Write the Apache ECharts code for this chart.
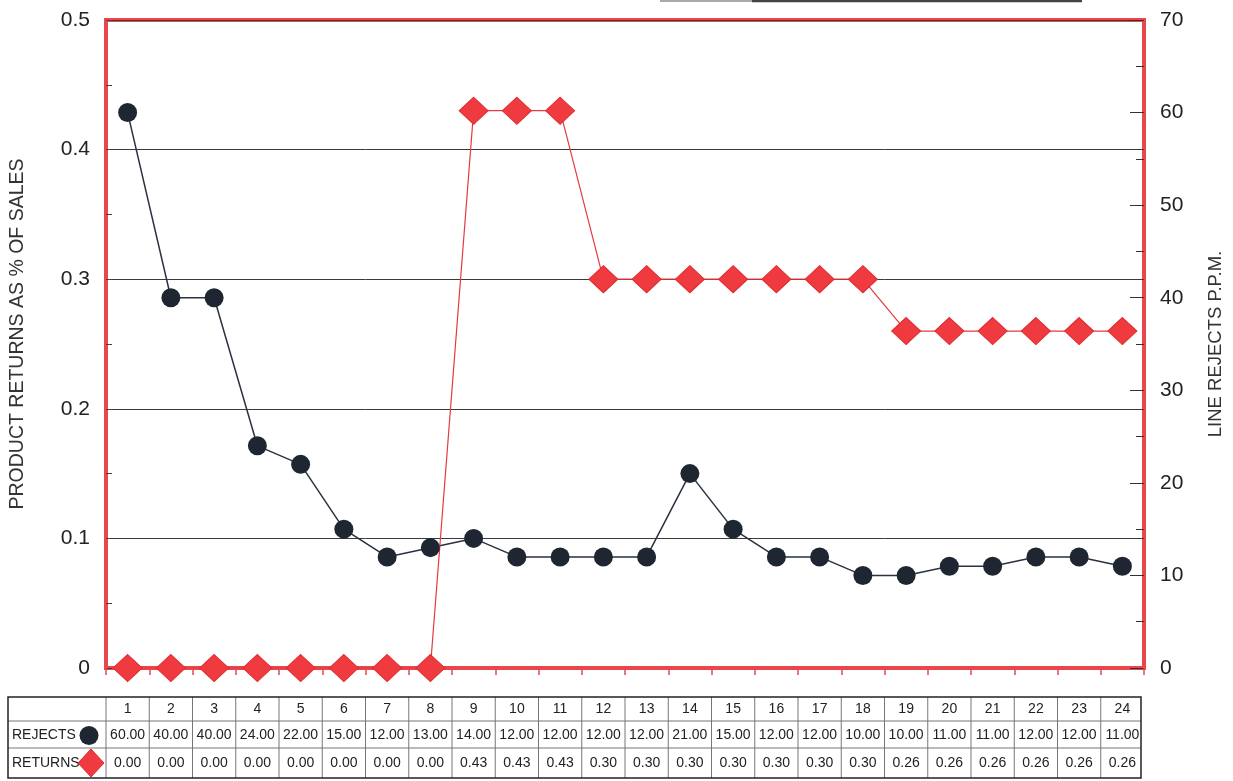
<!DOCTYPE html>
<html>
<head>
<meta charset="utf-8">
<script src="https://cdn.jsdelivr.net/npm/echarts@6/dist/echarts.min.js"></script>
<style>
html,body{margin:0;padding:0;background:#fff;}
#c{width:1233px;height:781px;}
</style>
</head>
<body>
<div id="c"></div>
<script>
var categories = ['1','2','3','4','5','6','7','8','9','10','11','12','13','14','15','16','17','18','19','20','21','22','23','24'];
var rejects = [60,40,40,24,22,15,12,13,14,12,12,12,12,21,15,12,12,10,10,11,11,12,12,11];
var returns = [0,0,0,0,0,0,0,0,0.43,0.43,0.43,0.30,0.30,0.30,0.30,0.30,0.30,0.30,0.26,0.26,0.26,0.26,0.26,0.26];
var leftTicks = {min:0, max:0.5, interval:0.1};
var rightTicks = {min:0, max:70, interval:10};

var FONT = 'Liberation Sans, Arial, sans-serif';
var RED = '#e8474c';
var DARK = '#1e2632';

var chart = echarts.init(document.getElementById('c'));
var gridL = 105, gridR = 88, gridT = 20, gridB = 113;

chart.setOption({
  backgroundColor: '#ffffff',
  animation: false,
  grid: {left: gridL, right: gridR, top: gridT, bottom: gridB, show: true, borderColor: RED, borderWidth: 4, backgroundColor: 'transparent'},
  xAxis: {
    type: 'category', data: categories, boundaryGap: true,
    axisLine: {show: true, lineStyle: {color: RED, width: 4}},
    axisTick: {show: true, length: 7, lineStyle: {color: RED, width: 1.5}},
    axisLabel: {show: false},
    splitLine: {show: false}
  },
  yAxis: [{
    type: 'value', min: leftTicks.min, max: leftTicks.max, interval: leftTicks.interval, position: 'left',
    name: 'PRODUCT RETURNS AS % OF SALES', nameLocation: 'middle', nameGap: 78, nameRotate: 90,
    nameTextStyle: {fontFamily: FONT, fontSize: 19.5, color: '#333', padding: [0, 0, 0, 20]},
    axisLine: {show: false},
    axisTick: {show: true, inside: true, length: 6, lineStyle: {color: '#444'}},
    minorTick: {show: true, splitNumber: 2, length: 6, lineStyle: {color: '#444'}},
    axisLabel: {fontFamily: FONT, fontSize: 21, color: '#222', margin: 16},
    splitLine: {show: true, lineStyle: {color: '#3a3a3a', width: 1}}
  }, {
    type: 'value', min: rightTicks.min, max: rightTicks.max, interval: rightTicks.interval, position: 'right',
    name: 'LINE REJECTS P.P.M.', nameLocation: 'middle', nameGap: 62, nameRotate: 90,
    nameTextStyle: {fontFamily: 'Liberation Sans Narrow, ' + FONT, fontSize: 18.5, color: '#333'},
    axisLine: {show: false},
    axisTick: {show: true, inside: true, length: 14, lineStyle: {color: '#333'}},
    minorTick: {show: true, splitNumber: 2, length: 8, lineStyle: {color: '#333'}},
    axisLabel: {fontFamily: FONT, fontSize: 21, color: '#222', margin: 16},
    splitLine: {show: false}
  }],
  series: [{
    name: 'REJECTS', type: 'line', yAxisIndex: 1, data: rejects,
    symbol: 'circle', symbolSize: 19, clip: false,
    itemStyle: {color: DARK},
    lineStyle: {color: '#2a3240', width: 1.5}
  }, {
    name: 'RETURNS', type: 'line', yAxisIndex: 0, data: returns,
    symbol: 'diamond', symbolSize: [29, 27], clip: false,
    itemStyle: {color: '#ef3b40', borderColor: '#e02a30', borderWidth: 1},
    lineStyle: {color: '#e53a3f', width: 1.2}
  }]
});

// data table below the chart
var half = (chart.convertToPixel({xAxisIndex: 0}, 1) - chart.convertToPixel({xAxisIndex: 0}, 0)) / 2;
var tableL = 8;
var lastC = chart.convertToPixel({xAxisIndex: 0}, categories.length - 1);
var tableR = lastC + half - 3;
var rowY = [697, 721, 748, 778];
var els = [];
var lineStyle = {stroke: '#777', lineWidth: 1};
for (var r = 1; r < rowY.length - 1; r++) {
  els.push({type: 'line', shape: {x1: tableL, y1: rowY[r], x2: tableR, y2: rowY[r]}, style: lineStyle});
}
for (var i = 0; i < categories.length; i++) {
  var cx = chart.convertToPixel({xAxisIndex: 0}, i);
  els.push({type: 'line', shape: {x1: cx - half, y1: rowY[0], x2: cx - half, y2: rowY[3]}, style: lineStyle});
  els.push({type: 'text', x: cx, y: (rowY[0] + rowY[1]) / 2, style: {text: categories[i], font: '14px ' + FONT, fill: '#222', align: 'center', verticalAlign: 'middle'}});
  els.push({type: 'text', x: cx, y: (rowY[1] + rowY[2]) / 2 + 1, style: {text: rejects[i].toFixed(2), font: '14px ' + FONT, fill: '#222', align: 'center', verticalAlign: 'middle'}});
  els.push({type: 'text', x: cx, y: (rowY[2] + rowY[3]) / 2, style: {text: returns[i].toFixed(2), font: '14px ' + FONT, fill: '#222', align: 'center', verticalAlign: 'middle'}});
}
els.push({type: 'rect', shape: {x: tableL, y: rowY[0], width: tableR - tableL, height: rowY[3] - rowY[0]}, style: {fill: 'none', stroke: '#222', lineWidth: 1.5}});
els.push({type: 'text', x: 12, y: (rowY[1] + rowY[2]) / 2 + 1, style: {text: 'REJECTS', font: '14px ' + FONT, fill: '#222', align: 'left', verticalAlign: 'middle'}});
els.push({type: 'text', x: 12, y: (rowY[2] + rowY[3]) / 2, style: {text: 'RETURNS', font: '14px ' + FONT, fill: '#222', align: 'left', verticalAlign: 'middle'}});
els.push({type: 'circle', shape: {cx: 89, cy: (rowY[1] + rowY[2]) / 2 + 1, r: 9.5}, style: {fill: DARK}});
els.push({type: 'polygon', shape: {points: [[91, 749], [104, 763], [91, 777], [78, 763]]}, style: {fill: '#ef3b40', stroke: '#e02a30', lineWidth: 1}});
els.push({type: 'line', shape: {x1: 660, y1: 1, x2: 752, y2: 1}, style: {stroke: '#aaa', lineWidth: 2}});
els.push({type: 'line', shape: {x1: 752, y1: 1, x2: 1082, y2: 1}, style: {stroke: '#444', lineWidth: 2.5}});
chart.setOption({graphic: {elements: els}});
</script>
</body>
</html>
